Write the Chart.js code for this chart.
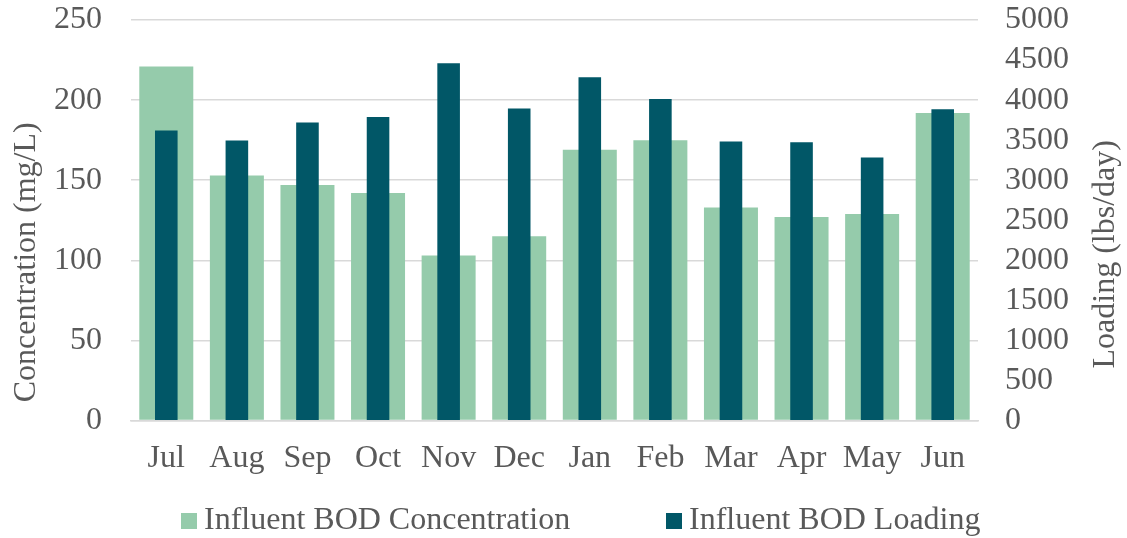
<!DOCTYPE html>
<html>
<head>
<meta charset="utf-8">
<script src="https://cdn.jsdelivr.net/npm/chart.js@4/dist/chart.umd.min.js"></script>
<style>
  html, body { margin: 0; padding: 0; background: #fff; }
  #wrap { width: 1127px; height: 538px; position: relative; }
</style>
</head>
<body>
<div id="wrap"><canvas id="chart"></canvas></div>
<script>
'use strict';

// ─── Data ────────────────────────────────────────────────────────────────────
const MONTHS = ['Jul', 'Aug', 'Sep', 'Oct', 'Nov', 'Dec', 'Jan', 'Feb', 'Mar', 'Apr', 'May', 'Jun'];
const CONC_MGL = [221, 153, 147, 142, 103, 115, 169, 175, 133, 127, 129, 192];
const LOAD_LBS = [3620, 3495, 3720, 3790, 4460, 3895, 4285, 4015, 3485, 3475, 3285, 3885];

const SERIES_NAMES = ['Influent BOD Concentration', 'Influent BOD Loading'];
const AXIS_TITLES = { left: 'Concentration (mg/L)', right: 'Loading (lbs/day)' };

// ─── Style ───────────────────────────────────────────────────────────────────
const FONT = '"Liberation Serif", "Times New Roman", serif';
const FS   = 32;
const TEXT = '#595959';
const GRID = '#d9d9d9';
const LIGHT = '#95cbab';
const DARK  = '#015767';

// Rotated axis titles (both read bottom-to-top, like the source) + legend row
const decorations = {
  id: 'decorations',
  afterDraw(chart) {
    const { ctx, chartArea } = chart;
    const mid = (chartArea.top + chartArea.bottom) / 2;
    ctx.save();
    ctx.fillStyle = TEXT;
    ctx.font = `${FS}px ${FONT}`;
    ctx.textAlign = 'center';
    ctx.textBaseline = 'middle';
    [[27, mid + 42, AXIS_TITLES.left], [1106, mid + 34, AXIS_TITLES.right]].forEach(([x, y, t]) => {
      ctx.save();
      ctx.translate(x, y);
      ctx.rotate(-Math.PI / 2);
      ctx.fillText(t, 0, 0);
      ctx.restore();
    });

    // legend: square swatch + name, positioned like the source
    const ly = 521;
    [181, 666].forEach((x, i) => {
      const ds = chart.data.datasets[i];
      ctx.fillStyle = ds.backgroundColor;
      ctx.fillRect(x, ly - 8, 16, 16);
      ctx.fillStyle = TEXT;
      ctx.textAlign = 'left';
      ctx.fillText(ds.label, x + 23, ly);
    });
    ctx.restore();
  },
};

const tickFont = { family: FONT, size: FS };
// let the top tick label overhang the plot instead of pushing it down
const fitY = w => s => { s.width = w; s.paddingTop = 0; };

new Chart(document.getElementById('chart'), {
  type: 'bar',
  data: {
    labels: MONTHS,
    datasets: [
      {
        label: SERIES_NAMES[0], data: CONC_MGL, yAxisID: 'y',
        backgroundColor: LIGHT, grouped: false, order: 2,
        barPercentage: 0.765, categoryPercentage: 1,
      },
      {
        label: SERIES_NAMES[1], data: LOAD_LBS, yAxisID: 'y1',
        backgroundColor: DARK, grouped: false, order: 1,
        barPercentage: 0.32, categoryPercentage: 1,
      },
    ],
  },
  options: {
    responsive: true,
    maintainAspectRatio: false,
    animation: false,
    layout: { padding: { top: 20, left: 0, right: 0, bottom: 49 } },
    plugins: {
      legend: { display: false },
      tooltip: { enabled: false },
    },
    scales: {
      x: {
        grid: { display: false },
        border: { color: GRID, width: 1.5 },
        ticks: { color: TEXT, font: tickFont, padding: 11, maxRotation: 0 },
      },
      y: {
        position: 'left', min: 0, max: 250,
        afterFit: fitY(131),
        grid: { color: GRID, lineWidth: 1.5, drawTicks: false },
        border: { display: false },
        ticks: { stepSize: 50, autoSkip: false, color: TEXT, font: tickFont, padding: 29 },
      },
      y1: {
        position: 'right', min: 0, max: 5000,
        afterFit: fitY(149),
        grid: { drawOnChartArea: false, drawTicks: false },
        border: { display: false },
        ticks: {
          stepSize: 500, autoSkip: false, color: TEXT, font: tickFont, padding: 27,
          callback: v => String(v),
        },
      },
    },
  },
  plugins: [decorations],
});
</script>
</body>
</html>
